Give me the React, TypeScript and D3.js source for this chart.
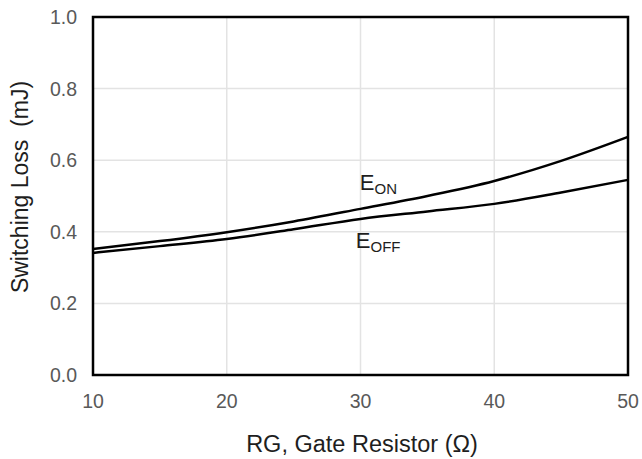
import React, { useRef, useEffect } from 'react';
import * as d3 from 'd3';

// gate resistor values (ohm)
const rg = [10, 15, 20, 25, 30, 35, 40, 45, 50];
// switching losses (mJ)
const eon = [0.352, 0.374, 0.399, 0.429, 0.464, 0.5, 0.542, 0.598, 0.665];
const eoff = [0.341, 0.36, 0.38, 0.407, 0.436, 0.457, 0.478, 0.51, 0.545];
const xTicks = [10, 20, 30, 40, 50];
const yTicks = [0, 0.2, 0.4, 0.6, 0.8, 1.0];

const App = () => {
  const svgRef = useRef<SVGSVGElement>(null);

  useEffect(() => {
    const svg = d3.select(svgRef.current);
    svg.selectAll('*').remove();

    const margin = { top: 17, right: 14, bottom: 84, left: 93 };
    const width = 642 - margin.left - margin.right;
    const height = 459 - margin.top - margin.bottom;
    const font = 'Liberation Sans, Arial, sans-serif';

    const x = d3.scaleLinear().domain([10, 50]).range([0, width]);
    const y = d3.scaleLinear().domain([0, 1]).range([height, 0]);

    const g = svg.append('g').attr('transform', `translate(${margin.left}, ${margin.top})`);

    // grid
    g.append('g')
      .selectAll('line')
      .data(xTicks)
      .enter()
      .append('line')
      .attr('x1', (d) => x(d))
      .attr('x2', (d) => x(d))
      .attr('y1', 0)
      .attr('y2', height)
      .attr('stroke', '#e3e3e3')
      .attr('stroke-width', 1.5);
    g.append('g')
      .selectAll('line')
      .data(yTicks)
      .enter()
      .append('line')
      .attr('x1', 0)
      .attr('x2', width)
      .attr('y1', (d) => y(d))
      .attr('y2', (d) => y(d))
      .attr('stroke', '#e3e3e3')
      .attr('stroke-width', 1.5);

    // tick labels
    g.append('g')
      .selectAll('text')
      .data(yTicks)
      .enter()
      .append('text')
      .attr('x', -16)
      .attr('y', (d) => y(d))
      .attr('dy', '0.36em')
      .attr('text-anchor', 'end')
      .attr('font-family', font)
      .attr('font-size', 19.5)
      .attr('fill', '#595959')
      .text((d) => d3.format('.1f')(d));
    g.append('g')
      .selectAll('text')
      .data(xTicks)
      .enter()
      .append('text')
      .attr('x', (d) => x(d))
      .attr('y', height + 33)
      .attr('text-anchor', 'middle')
      .attr('font-family', font)
      .attr('font-size', 19.5)
      .attr('fill', '#595959')
      .text((d) => d);

    // curves
    const line = d3
      .line<number>()
      .x((d, i) => x(rg[i]))
      .y((d) => y(d))
      .curve(d3.curveMonotoneX);
    [eon, eoff].forEach((s) => {
      g.append('path')
        .datum(s)
        .attr('d', line)
        .attr('fill', 'none')
        .attr('stroke', '#000')
        .attr('stroke-width', 2.5);
    });

    // frame
    g.append('rect')
      .attr('x', 0)
      .attr('y', 0)
      .attr('width', width)
      .attr('height', height)
      .attr('fill', 'none')
      .attr('stroke', '#000')
      .attr('stroke-width', 2.5);

    // series labels
    const lab = (tx: number, ty: number, sub: string) => {
      const t = g.append('text')
        .attr('x', x(tx))
        .attr('y', y(ty))
        .attr('font-family', font)
        .attr('font-size', 22)
        .attr('fill', '#1e1e1e');
      t.append('tspan').text('E');
      t.append('tspan').attr('font-size', 15).attr('dy', 4).text(sub);
    };
    lab(29.95, 0.517, 'ON');
    lab(29.65, 0.356, 'OFF');

    // axis titles
    svg.append('text')
      .attr('x', 362)
      .attr('y', 452)
      .attr('text-anchor', 'middle')
      .attr('font-family', font)
      .attr('font-size', 23.5)
      .attr('fill', '#1e1e1e')
      .text('RG, Gate Resistor (Ω)');
    svg.append('text')
      .attr('transform', `translate(28, 187) rotate(-90)`)
      .attr('text-anchor', 'middle')
      .attr('font-family', font)
      .attr('font-size', 23)
      .attr('fill', '#1e1e1e')
      .attr('xml:space', 'preserve')
      .text('Switching Loss  (mJ)');
  }, []);

  return (
    <svg ref={svgRef} width={642} height={459} style={{ position: 'absolute', left: 0, top: 0 }}></svg>
  );
};

export default App;
